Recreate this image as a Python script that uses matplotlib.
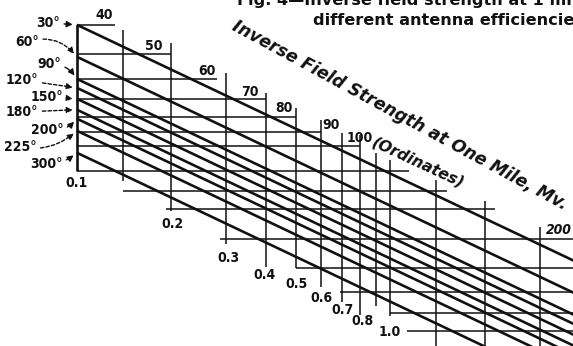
import matplotlib
matplotlib.use("Agg")
import matplotlib.pyplot as plt

W, H = 573, 346

# ---- data ----
# horizontal rulings: inverse field strength (ordinates) and the span of each ruling (abscissa)
ord_vals = [40, 50, 60, 70, 80, 90, 100, 120, 140, 160, 200, 250, 300, 350, 400]
ord_from = [0.1, 0.1, 0.1, 0.1, 0.1, 0.1, 0.1, 0.1, 0.14, 0.193, 0.287, 0.5, 0.69, 1.0, 1.13]
ord_to = [0.132, 0.2, 0.28, 0.4, 0.5, 0.6, 0.8, 1.15, 1.52, 2.15, 5, 5, 5, 5, 5]
ord_labels = ["40", "50", "60", "70", "80", "90", "100", "200"]

# vertical rulings: abscissa values and the span of each ruling (ordinates)
abs_vals = [0.1, 0.14, 0.2, 0.3, 0.4, 0.5, 0.6, 0.7, 0.8, 0.9, 1.0, 1.4, 2.0, 3.0]
abs_top = [40, 41.5, 45.8, 57.3, 66.8, 74.9, 81.8, 90.2, 91.6, 104.8, 111, 129, 151, 183]
abs_bot = [120, 130, 162, 209, 248, 250, 289, 322, 355, 333, 359, 600, 600, 600]
abs_labels = ["0.1", "0.2", "0.3", "0.4", "0.5", "0.6", "0.7", "0.8", "1.0"]

# antenna efficiency lines: value at abscissa 0.1 and at abscissa 4.0
angles = ["30°", "60°", "90°", "120°", "150°", "180°", "200°", "225°", "300°"]
eff_start = [40, 50.9, 60.1, 64.3, 69.8, 75.8, 81.1, 88.8, 104.8]
eff_end = [241, 307, 362, 388, 421, 457, 489, 535, 632]
eff_x = [0.1, 4.0]

# ---- figure ----
fig = plt.figure(figsize=(W / 100, H / 100), dpi=100)
fig.patch.set_facecolor("white")
ax = fig.add_axes([0, 0, 1, 1])
ax.set_xscale("log")
ax.set_yscale("log")
ax.set_xlim(0.0569, 3.82)
ax.set_ylim(449, 33.2)
ax.axis("off")

INK = "#111111"
for v, a, b in zip(ord_vals, ord_from, ord_to):
    ax.plot([a, b], [v, v], color=INK, lw=1.1, solid_capstyle="butt")
for d, t, b in zip(abs_vals, abs_top, abs_bot):
    lw = 1.9 if d == 0.1 else 1.1
    ax.plot([d, d], [t, b], color=INK, lw=lw, solid_capstyle="butt")
for s, e in zip(eff_start, eff_end):
    ax.plot(eff_x, [s, e], color=INK, lw=1.9, solid_capstyle="butt")


def fp(x, y):
    """figure-pixel position measured from the top-left corner"""
    return (x, H - y)


num_font = dict(family="DejaVu Sans", fontstretch="condensed", weight="bold", color=INK)

# ordinate labels
ord_lab_pos = [(104, 15), (154, 46), (207, 71), (250, 92), (284, 108), (331, 125), (360, 138), (559, 230)]
for lab, (x, y) in zip(ord_labels, ord_lab_pos):
    style = "italic" if lab == "200" else "normal"
    fig.text(x / W, 1 - y / H, lab, ha="center", va="center", fontsize=10, style=style, **num_font)

# abscissa labels
abs_lab_pos = [(77, 183), (173, 224), (228, 258), (265, 275), (297, 284), (321, 298), (342, 310), (362, 321), (390, 332)]
for lab, (x, y) in zip(abs_labels, abs_lab_pos):
    fig.text(x / W, 1 - y / H, lab, ha="center", va="center", fontsize=10, **num_font)

# degree labels with arrows
ang_pos = [(48, 23), (27, 42), (49, 64), (22, 80), (47, 97), (22, 112), (47, 130), (20, 147), (46, 164)]
ang_dash = [False, True, False, True, True, True, False, True, False]
ang_rad = [0, -0.35, -0.3, 0, 0, 0, 0.3, 0.25, 0.2]
for lab, s, (x, y), dsh, rad in zip(angles, eff_start, ang_pos, ang_dash, ang_rad):
    ax.annotate(lab, xy=(0.1, s), xycoords="data", xytext=fp(x, y), textcoords="figure pixels",
                ha="center", va="center", fontsize=10, **num_font,
                arrowprops=dict(arrowstyle="-|>,head_length=0.35,head_width=0.18", color=INK, lw=1.0,
                                ls=(0, (2.5, 1.5)) if dsh else "-",
                                connectionstyle=f"arc3,rad={rad}", shrinkA=1, shrinkB=3))

# caption (top cut off in the scan)
cap_font = dict(family="DejaVu Sans", weight="bold", color=INK, fontsize=11.6)
fig.text(237 / W, 1 - 5 / H, "Fig. 4—Inverse field strength at 1 mile for", ha="left", va="baseline", **cap_font)
fig.text(313 / W, 1 - 25 / H, "different antenna efficiencies", ha="left", va="baseline", **cap_font)

# rotated axis title
fig.text(231 / W, 1 - 29 / H, "Inverse Field Strength at One Mile, Mv.", rotation=-28.5,
         rotation_mode="anchor", ha="left", va="baseline", family="DejaVu Sans",
         style="italic", weight="bold", fontsize=12.3, color=INK)
fig.text(371 / W, 1 - 146 / H, "(Ordinates)", rotation=-25,
         rotation_mode="anchor", ha="left", va="baseline", family="DejaVu Sans",
         style="italic", weight="bold", fontsize=11.2, color=INK)

fig.savefig("out.png", dpi=100, facecolor="white")
